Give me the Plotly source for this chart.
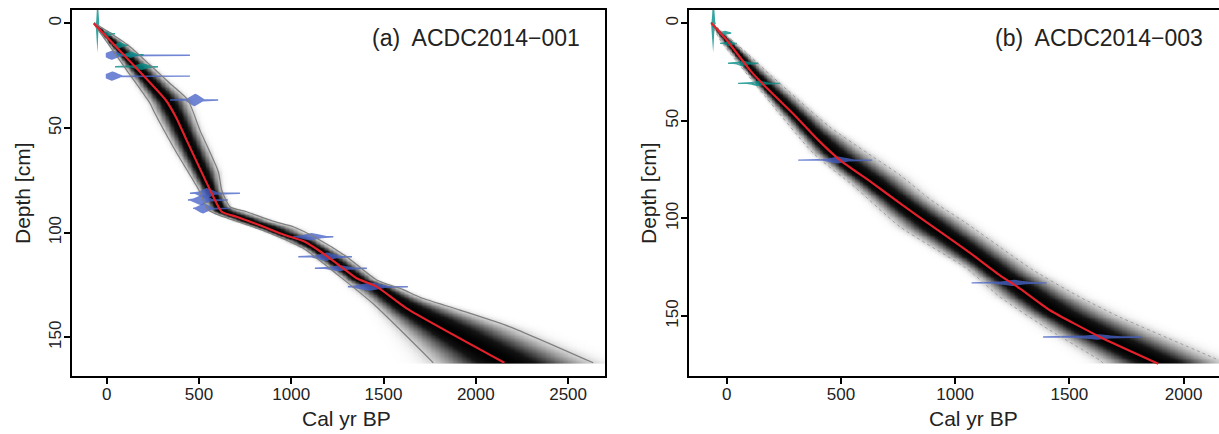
import numpy as np
import plotly.graph_objects as go

# ---------------- data ----------------
# Panel (a) ACDC2014-001 : age-depth model
a_mean_depth = [0, 23.1, 36.6, 45.4, 55.8, 81.2, 90, 92.4, 96.5, 101, 104, 108.3, 114.7, 121.8, 125.8, 136.2, 162.2]
a_mean_age = [-69, 180, 320, 379, 433, 569, 623, 704, 830, 960, 1065, 1146, 1246, 1354, 1463, 1625, 2155]
a_lo_depth = [0, 10, 22.3, 38.2, 41.4, 60.5, 80.5, 89.2, 92.4, 99.6, 107.5, 121, 134, 162.2]
a_lo_age = [-72, 10, 108, 235, 252, 370, 505, 550, 632, 867, 1065, 1264, 1444, 1770]
a_hi_depth = [0, 10, 19.9, 28.7, 36.6, 51, 70.9, 79.6, 87.6, 90, 94.5, 97.2, 102.7, 111.5, 122.6, 127, 131, 137, 145, 162.2]
a_hi_age = [-62, 110, 235, 343, 440, 505, 605, 623, 668, 758, 900, 1011, 1138, 1300, 1463, 1600, 1700, 1914, 2185, 2636]

# Panel (a) dates: depth, peak age, core spread, min age, max age, half height (cm)
a_c14_depth = [15.2, 25.2, 36.6, 81.2, 84.4, 88.4, 102.0, 111.5, 117.0, 125.8]
a_c14_peak = [30, 30, 478, 540, 515, 525, 1110, 1190, 1260, 1430]
a_c14_sd = [28, 28, 25, 30, 30, 25, 40, 40, 40, 50]
a_c14_min = [-5, -5, 343, 451, 440, 468, 1011, 1038, 1128, 1307]
a_c14_max = [451, 451, 604, 722, 656, 668, 1228, 1329, 1410, 1632]
a_c14_h = [2.2, 2.2, 3.0, 2.5, 2.5, 2.5, 1.8, 2.0, 1.5, 2.0]

a_pb_depth = [0, 5, 10.4, 15, 20.7]
a_pb_peak = [-50, 5, 70, 130, 190]
a_pb_sd = [3, 12, 15, 20, 30]
a_pb_min = [-60, -25, 34, 60, 45]
a_pb_max = [-40, 45, 116, 200, 278]
a_pb_h = [14, 1.6, 1.6, 1.6, 1.6]

# Panel (b) ACDC2014-003 : age-depth model
b_mean_depth = [0, 8.6, 24, 32.5, 46.2, 60, 70.1, 82, 93.2, 104.3, 116.3, 129.1, 135.9, 147, 160.7, 174.4]
b_mean_age = [-66, 0, 102, 170, 290, 402, 496, 640, 770, 904, 1050, 1196, 1284, 1415, 1634, 1889]
b_lo_depth = [0, 10, 37.6, 66.7, 83.8, 104.3, 125.6, 140.2, 157.3, 172.7, 174.4]
b_lo_age = [-70, -20, 170, 380, 560, 759, 1050, 1196, 1415, 1634, 1650]
b_hi_depth = [0, 3.4, 13.7, 27.4, 53, 68.4, 77.8, 90.6, 101.7, 126.5, 140.2, 150.5, 172.7, 174.4]
b_hi_age = [-62, -29, 73, 200, 450, 640, 759, 895, 1040, 1342, 1545, 1720, 2155, 2180]

b_c14_depth = [70.1, 133.0, 160.7]
b_c14_peak = [488, 1253, 1625]
b_c14_sd = [35, 45, 50]
b_c14_min = [313, 1072, 1385]
b_c14_max = [637, 1400, 1816]
b_c14_h = [1.8, 1.6, 1.4]

b_pb_depth = [0, 5, 10.3, 20.5, 30.8]
b_pb_peak = [-59, -10, 10, 70, 140]
b_pb_sd = [3, 10, 12, 20, 25]
b_pb_min = [-70, -35, -29, 6, 50]
b_pb_max = [-48, 20, 45, 138, 234]
b_pb_h = [15, 1.2, 1.5, 1.5, 1.5]

x_ticks_a = [0, 500, 1000, 1500, 2000, 2500]
x_ticks_b = [0, 500, 1000, 1500, 2000]
y_ticks = [0, 50, 100, 150]

# ---------------- styles ----------------
FONT = "Liberation Sans, Arial, sans-serif"
BLUE = "rgba(72,100,200,0.78)"
TEAL = "rgba(0,140,135,0.78)"
RED = "#e3212b"
W, H = 1219, 434


def px_x(p):
    return p / W


def px_y(p):
    return 1 - p / H


fig = go.Figure()

greyscale = [[0.0, "rgba(255,255,255,0)"], [0.12, "rgba(232,232,232,1)"],
             [0.45, "rgb(125,125,125)"], [0.8, "rgb(20,20,20)"], [1.0, "rgb(0,0,0)"]]


def add_model(xa, ya, md, ma, ld, la, hd, ha, xr, outline_dash, outline_col, outline_w):
    dmax = max(md)
    depths = np.arange(0, dmax + 0.01, 0.75)
    ages = np.arange(xr[0], xr[1], 7.0)
    m = np.interp(depths, md, ma)
    lo = np.interp(depths, ld, la)
    hi = np.interp(depths, hd, ha)
    sl = np.maximum((m - lo) / 1.85, 2.0)
    sh = np.maximum((hi - m) / 1.85, 2.0)
    A = ages[None, :]
    d = np.where(A < m[:, None], (A - m[:, None]) / sl[:, None], (A - m[:, None]) / sh[:, None])
    z = np.round(np.exp(-0.5 * d ** 2), 3)
    fig.add_trace(go.Heatmap(x=ages, y=depths, z=z, xaxis=xa, yaxis=ya, zmin=0, zmax=1,
                             colorscale=greyscale, showscale=False, zsmooth="best",
                             hoverinfo="skip"))
    return (ld, la, hd, ha, outline_dash, outline_col, outline_w)


def add_dates(xa, ya, depth, peak, sd, amin, amax, h, color):
    for dd, pk, s, a0, a1, hh in zip(depth, peak, sd, amin, amax, h):
        ag = np.linspace(a0, a1, 120)
        half = np.maximum(hh * np.exp(-0.5 * ((ag - pk) / s) ** 2), 0.35)
        xs = np.concatenate([ag, ag[::-1]])
        ys = np.concatenate([dd - half, (dd + half)[::-1]])
        fig.add_trace(go.Scatter(x=xs, y=ys, xaxis=xa, yaxis=ya, mode="lines", fill="toself",
                                 fillcolor=color, line=dict(width=0), hoverinfo="skip"))


def add_lines(xa, ya, md, ma, outl):
    ld, la, hd, ha, dash, col, w = outl
    for dd, aa in ((ld, la), (hd, ha)):
        fig.add_trace(go.Scatter(x=aa, y=dd, xaxis=xa, yaxis=ya, mode="lines",
                                 line=dict(color=col, width=w, dash=dash, shape="spline", smoothing=0.6),
                                 hoverinfo="skip"))
    fig.add_trace(go.Scatter(x=ma, y=md, xaxis=xa, yaxis=ya, mode="lines",
                             line=dict(color=RED, width=2.2, shape="spline", smoothing=0.5),
                             hoverinfo="skip"))


xr_a = [-188, 2700]
xr_b = [-165, 2155]

oa = add_model("x", "y", a_mean_depth, a_mean_age, a_lo_depth, a_lo_age, a_hi_depth, a_hi_age,
               xr_a, "solid", "#7f7f7f", 1.2)
add_dates("x", "y", a_c14_depth, a_c14_peak, a_c14_sd, a_c14_min, a_c14_max, a_c14_h, BLUE)
add_dates("x", "y", a_pb_depth, a_pb_peak, a_pb_sd, a_pb_min, a_pb_max, a_pb_h, TEAL)
add_lines("x", "y", a_mean_depth, a_mean_age, oa)

ob = add_model("x2", "y2", b_mean_depth, b_mean_age, b_lo_depth, b_lo_age, b_hi_depth, b_hi_age,
               xr_b, "dot", "#9a9a9a", 0.9)
add_dates("x2", "y2", b_c14_depth, b_c14_peak, b_c14_sd, b_c14_min, b_c14_max, b_c14_h, BLUE)
add_dates("x2", "y2", b_pb_depth, b_pb_peak, b_pb_sd, b_pb_min, b_pb_max, b_pb_h, TEAL)
add_lines("x2", "y2", b_mean_depth, b_mean_age, ob)

axis_common = dict(showline=True, linecolor="black", linewidth=2, ticks="outside", ticklen=6,
                   tickwidth=1.6, tickcolor="black", showgrid=False, zeroline=False,
                   automargin=False, ticklabelstandoff=-4,
                   tickfont=dict(family=FONT, size=17, color="#222"))

fig.update_layout(
    width=W, height=H, margin=dict(l=0, r=0, t=0, b=0, autoexpand=False),
    paper_bgcolor="white", plot_bgcolor="white", showlegend=False,
    xaxis=dict(domain=[px_x(72), px_x(605)], range=xr_a, anchor="y", tickvals=x_ticks_a,
               mirror=True, **axis_common),
    yaxis=dict(domain=[px_y(376), px_y(10)], range=[168.5, -6.4], anchor="x", tickvals=y_ticks,
               tickangle=-90, mirror=True, **axis_common),
    xaxis2=dict(domain=[px_x(689), 1.0], range=xr_b, anchor="y2", tickvals=x_ticks_b,
                mirror=True, **axis_common),
    yaxis2=dict(domain=[px_y(376), px_y(10)], range=[180.7, -6.8], anchor="x2", tickvals=y_ticks,
                tickangle=-90, mirror=False, **axis_common),
)

title_font = dict(family=FONT, size=21, color="#222")
label_font = dict(family=FONT, size=23, color="#222")
annos = [
    dict(text="Cal yr BP", x=px_x(346), y=px_y(418), font=title_font),
    dict(text="Cal yr BP", x=px_x(973), y=px_y(418), font=title_font),
    dict(text="Depth [cm]", x=px_x(22), y=px_y(193), font=title_font, textangle=-90),
    dict(text="Depth [cm]", x=px_x(648), y=px_y(193), font=title_font, textangle=-90),
    dict(text="(a)  ACDC2014\u2212001", x=px_x(582), y=px_y(38), font=label_font, xanchor="right"),
    dict(text="(b)  ACDC2014\u2212003", x=px_x(1205), y=px_y(38), font=label_font, xanchor="right"),
]
for an in annos:
    base = dict(xref="paper", yref="paper", showarrow=False, xanchor="center", yanchor="middle")
    base.update(an)
    fig.add_annotation(**base)

fig.write_html("out.html", config={"displayModeBar": False},
               post_script="document.body.style.margin='0';document.body.style.overflow='hidden';")
